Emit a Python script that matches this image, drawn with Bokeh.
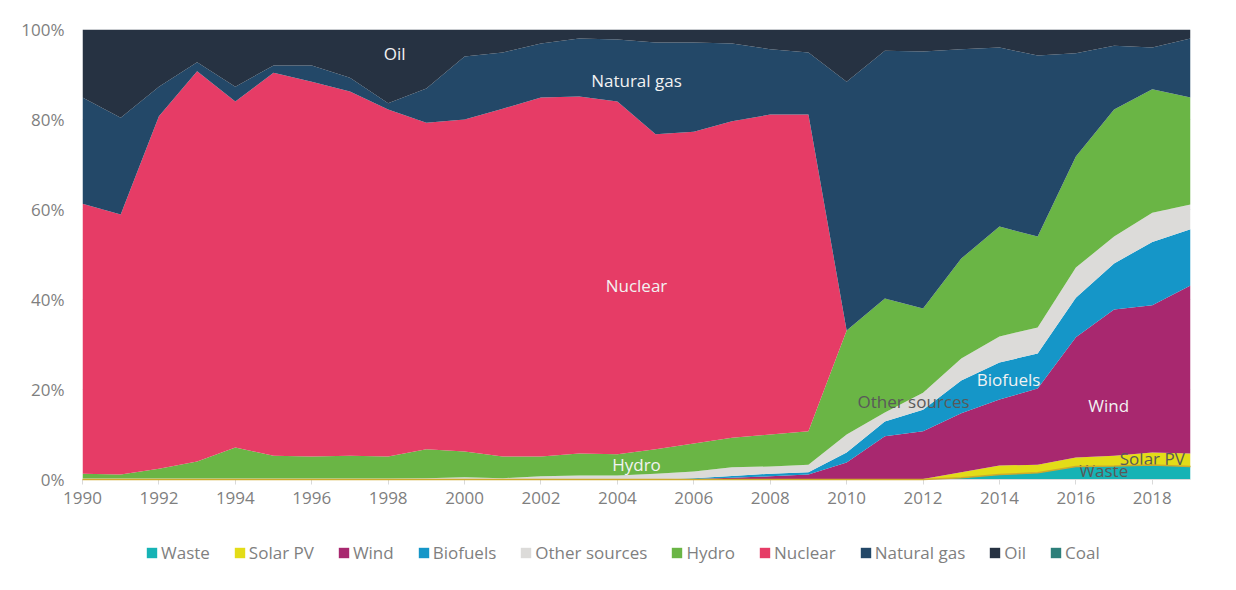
from bokeh.plotting import figure
from bokeh.layouts import column
from bokeh.models import (ColumnDataSource, Legend, LegendItem, Range1d,
                          PrintfTickFormatter, FixedTicker)
from bokeh.core.properties import value
from bokeh.embed import file_html
from bokeh.resources import INLINE

years = list(range(1990, 2020))

waste = [0]*23 + [0.4, 1.1, 1.5, 2.9, 3.0, 3.2, 2.9]
solar_pv = [0]*22 + [0.1, 1.2, 2.0, 1.8, 2.0, 2.3, 2.8, 2.9]
wind = [0]*16 + [0.1, 0.4, 0.7, 1.1, 3.8, 9.6, 10.6, 13.1, 14.7, 16.9, 26.7, 32.5, 32.7, 37.3]
biofuels = [0]*16 + [0.2, 0.4, 0.6, 0.5, 2.2, 3.3, 4.8, 7.3, 8.2, 7.8, 8.8, 10.2, 14.1, 12.5]
other_sources = [0.2, 0.2, 0.2, 0.2, 0.2, 0.2, 0.2, 0.2, 0.2, 0.3,
                 0.5, 0.3, 0.7, 0.9, 0.9, 1.3, 1.5, 1.9, 1.6, 1.7,
                 4.0, 2.0, 3.8, 4.9, 5.8, 5.8, 6.7, 6.0, 6.5, 5.5]
hydro = [1.1, 0.9, 2.2, 3.8, 6.9, 5.1, 4.9, 5.1, 4.9, 6.4,
         5.7, 4.8, 4.4, 4.9, 4.7, 5.4, 6.2, 6.6, 7.1, 7.4,
         23.1, 25.3, 18.7, 22.2, 24.4, 20.2, 24.7, 28.2, 27.4, 23.8]
nuclear = [60.0, 57.8, 78.3, 86.7, 76.9, 85.1, 83.3, 80.9, 77.1, 72.6,
           73.8, 77.3, 79.8, 79.3, 78.4, 70.0, 69.3, 70.3, 71.1, 70.4,
           0, 0, 0, 0, 0, 0, 0, 0, 0, 0]
natural_gas = [23.6, 21.5, 6.6, 2.0, 3.3, 1.6, 3.6, 3.1, 1.4, 7.6,
               14.0, 12.5, 12.0, 12.9, 13.8, 20.4, 19.8, 17.3, 14.5, 13.8,
               55.3, 55.1, 57.1, 46.5, 39.8, 40.2, 22.9, 14.2, 9.3, 13.1]
oil = [15.1, 19.6, 12.7, 7.3, 12.7, 8.0, 8.0, 10.7, 16.4, 13.1,
       6.0, 5.1, 3.1, 2.0, 2.2, 2.9, 2.9, 3.1, 4.4, 5.1,
       11.6, 4.7, 4.9, 4.4, 4.0, 5.8, 5.3, 3.6, 4.0, 2.0]
coal = [0]*30

names = ["Waste", "Solar PV", "Wind", "Biofuels", "Other sources",
         "Hydro", "Nuclear", "Natural gas", "Oil", "Coal"]
series = [waste, solar_pv, wind, biofuels, other_sources,
          hydro, nuclear, natural_gas, oil, coal]
colors = ["#16b3b5", "#e3dc18", "#a8286f", "#1596c8", "#dcdbd9",
          "#6ab545", "#e63c66", "#234868", "#263242", "#2d7f7a"]

label_texts = ["Oil", "Natural gas", "Nuclear", "Hydro", "Other sources",
               "Biofuels", "Wind", "Waste", "Solar PV"]
label_x = [1998.17, 2004.5, 2004.5, 2004.5, 2011.75, 2014.24, 2016.86, 2016.73, 2018.0]
label_y = [94.7, 88.7, 43.1, 3.3, 17.3, 22.2, 16.4, 2.0, 4.7]
label_colors = ["#f2f2f2", "#f2f2f2", "#f2f2f2", "#f2f2f2", "#595959",
                "#f2f2f2", "#f2f2f2", "#595959", "#595959"]

FONT = "Open Sans"

# normalise to 100 %
totals = [sum(s[i] for s in series) for i in range(len(years))]
data = {"year": years}
for n, s in zip(names, series):
    data[n] = [100.0 * v / t for v, t in zip(s, totals)]
source = ColumnDataSource(data)

p = figure(width=1220, height=530, x_range=Range1d(1990, 2019), y_range=Range1d(0, 100),
           output_backend="svg", toolbar_location=None,
           min_border_left=82, min_border_right=30, min_border_top=29, min_border_bottom=51)
p.outline_line_color = None
p.background_fill_color = "white"
p.border_fill_color = "white"

renderers = p.varea_stack(stackers=names, x="year", source=source, color=colors)

# thin outline of the Solar PV band's lower edge (as in the original)
p.line(x="year", y="Waste", source=source, line_color="#cdaa2c", line_width=1.5,
       level="overlay")

lab_src = ColumnDataSource(dict(x=label_x, y=label_y, text=label_texts, color=label_colors))
p.text(x="x", y="y", text="text", source=lab_src, text_color="color",
       text_font=value(FONT), text_font_size="17px", text_align="center",
       text_baseline="middle")

# axes
p.xaxis.ticker = FixedTicker(ticks=list(range(1990, 2019, 2)))
p.xaxis.axis_line_color = "#d9d9d9"
p.xaxis.major_tick_line_color = "#d9d9d9"
p.xaxis.major_tick_out = 5
p.xaxis.major_tick_in = 0
p.xaxis.minor_tick_line_color = None
p.xaxis.minor_tick_out = 0
p.xaxis.major_label_standoff = 7
p.yaxis.ticker = FixedTicker(ticks=[0, 20, 40, 60, 80, 100])
p.yaxis.formatter = PrintfTickFormatter(format="%d%%")
p.yaxis.axis_line_color = None
p.yaxis.major_tick_line_color = None
p.yaxis.minor_tick_line_color = None
p.yaxis.major_tick_out = 0
p.yaxis.major_tick_in = 0
p.yaxis.minor_tick_out = 0
p.yaxis.major_label_standoff = 18
for ax in (p.xaxis, p.yaxis):
    ax.major_label_text_font = FONT
    ax.major_label_text_font_size = "17px"
    ax.major_label_text_color = "#7f7f7f"

p.xgrid.grid_line_color = None
p.ygrid.grid_line_color = "#d9d9d9"

# legend strip below the chart (frame aligned with the chart's frame)
lg = figure(width=1220, height=44, x_range=Range1d(0, 1), y_range=Range1d(0, 1),
            output_backend="svg", toolbar_location=None,
            x_axis_type=None, y_axis_type=None,
            min_border_left=0, min_border_right=0, min_border_top=0, min_border_bottom=0)
lg.outline_line_color = None
lg.background_fill_color = "white"
lg.border_fill_color = "white"
items = []
for n, c in zip(names, colors):
    # swatch renderers lie outside the visible range; only their legend glyphs show
    r = lg.varea(x=[5, 6], y1=[5, 5], y2=[6, 6], fill_color=c)
    items.append(LegendItem(label=n, renderers=[r]))
legend = Legend(items=items, orientation="horizontal", location=(63, 10),
                border_line_color=None, background_fill_alpha=0,
                glyph_width=13, glyph_height=13, label_standoff=3, spacing=23,
                padding=0, margin=0, label_text_font=FONT,
                label_text_font_size="17px", label_text_color="#7f7f7f")
lg.add_layout(legend, "center")

layout = column(p, lg, spacing=0)

open("out.html", "w").write(file_html(layout, INLINE))
